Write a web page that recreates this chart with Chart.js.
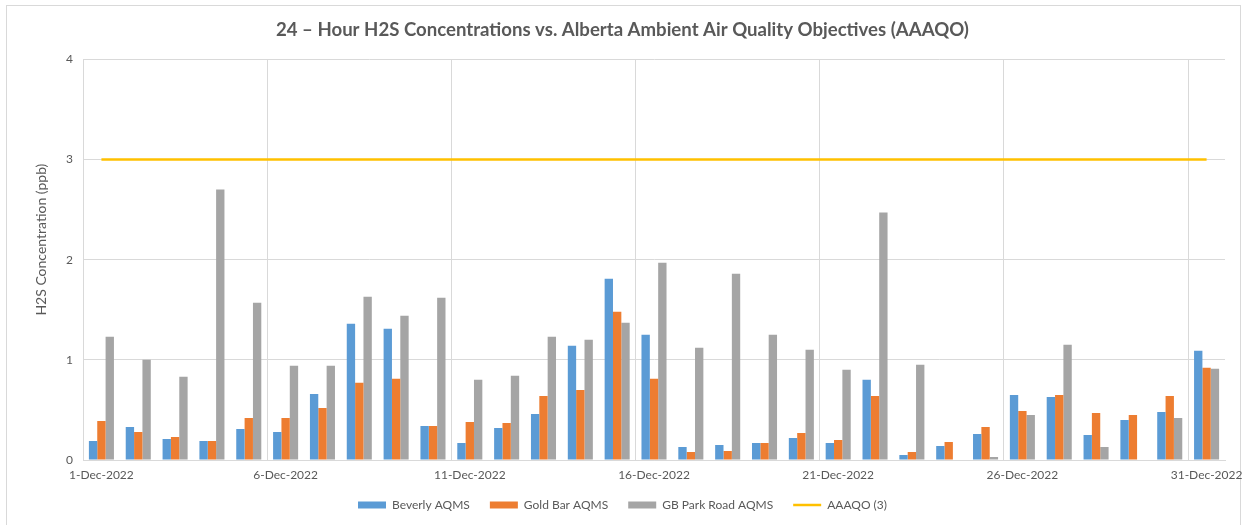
<!DOCTYPE html>
<html>
<head>
<meta charset="utf-8">
<script src="https://cdn.jsdelivr.net/npm/chart.js@4.4.0/dist/chart.umd.min.js"></script>
<style>
  html, body { margin: 0; padding: 0; background: #fff; }
  #wrap { width: 1243px; height: 525px; }
</style>
</head>
<body>
<div id="wrap"><canvas id="h2sChart" width="1243" height="525"></canvas></div>
<script>
// days of December 2022
const days = ['1-Dec-2022', '2-Dec-2022', '3-Dec-2022', '4-Dec-2022', '5-Dec-2022', '6-Dec-2022',
    '7-Dec-2022', '8-Dec-2022', '9-Dec-2022', '10-Dec-2022', '11-Dec-2022', '12-Dec-2022',
    '13-Dec-2022', '14-Dec-2022', '15-Dec-2022', '16-Dec-2022', '17-Dec-2022', '18-Dec-2022',
    '19-Dec-2022', '20-Dec-2022', '21-Dec-2022', '22-Dec-2022', '23-Dec-2022', '24-Dec-2022',
    '25-Dec-2022', '26-Dec-2022', '27-Dec-2022', '28-Dec-2022', '29-Dec-2022', '30-Dec-2022',
    '31-Dec-2022'];

const beverly = [0.19, 0.33, 0.21, 0.19, 0.31, 0.28, 0.66, 1.36, 1.31, 0.34,
    0.17, 0.32, 0.46, 1.14, 1.81, 1.25, 0.13, 0.15, 0.17, 0.22,
    0.17, 0.80, 0.05, 0.14, 0.26, 0.65, 0.63, 0.25, 0.40, 0.48, 1.09];

const goldBar = [0.39, 0.28, 0.23, 0.19, 0.42, 0.42, 0.52, 0.77, 0.81, 0.34,
    0.38, 0.37, 0.64, 0.70, 1.48, 0.81, 0.08, 0.09, 0.17, 0.27,
    0.20, 0.64, 0.08, 0.18, 0.33, 0.49, 0.65, 0.47, 0.45, 0.64, 0.92];

const gbParkRoad = [1.23, 1.00, 0.83, 2.70, 1.57, 0.94, 0.94, 1.63, 1.44, 1.62,
    0.80, 0.84, 1.23, 1.20, 1.37, 1.97, 1.12, 1.86, 1.25, 1.10,
    0.90, 2.47, 0.95, null, 0.03, 0.45, 1.15, 0.13, null, 0.42, 0.91];

// objective line (3 ppb)
const aaaqo = [3, 3, 3, 3, 3, 3, 3, 3, 3, 3, 3, 3, 3, 3, 3, 3,
    3, 3, 3, 3, 3, 3, 3, 3, 3, 3, 3, 3, 3, 3, 3];

const yTicks = [0, 1, 2, 3, 4];
const yTitle = 'H2S Concentration (ppb)';

const textGrey = '#595959';
const gridGrey = '#d9d9d9';
const fontFam = "Lato, 'Open Sans', sans-serif";

// light frame around the whole chart + y axis title (sits a bit above the middle, like the original)
const decorations = {
    id: 'decorations',
    beforeDraw(chart) {
        const c = chart.ctx;
        c.save();
        c.fillStyle = '#fff';
        c.fillRect(0, 0, chart.width, chart.height);
        c.strokeStyle = gridGrey;
        c.lineWidth = 1;
        c.strokeRect(6.5, 5.5, 1234, 530);
        c.restore();
    },
    afterDraw(chart) {
        const c = chart.ctx;
        const area = chart.chartArea;
        c.save();
        c.translate(41, area.top + (area.bottom - area.top) * 0.45);
        c.rotate(-Math.PI / 2);
        c.fillStyle = textGrey;
        c.font = '14px ' + fontFam;
        c.textAlign = 'center';
        c.textBaseline = 'middle';
        c.fillText(yTitle, 0, 0);
        c.restore();
    }
};

const bar = (label, data, color) => ({
    type: 'bar',
    label: label,
    data: data,
    backgroundColor: color,
    borderWidth: 0,
    pointStyle: 'rect',
    categoryPercentage: 0.68,
    barPercentage: 1
});

new Chart(document.getElementById('h2sChart'), {
    data: {
        labels: days,
        datasets: [
            bar('Beverly AQMS', beverly, '#5B9BD5'),
            bar('Gold Bar AQMS', goldBar, '#ED7D31'),
            bar('GB Park Road AQMS', gbParkRoad, '#A5A5A5'),
            {
                type: 'line',
                label: 'AAAQO (3)',
                data: aaaqo,
                borderColor: '#FFC000',
                backgroundColor: '#FFC000',
                borderWidth: 2.5,
                pointRadius: 0,
                pointStyle: 'line'
            }
        ]
    },
    options: {
        responsive: false,
        animation: false,
        layout: { padding: { left: 20, right: 18, top: 19, bottom: 4 } },
        plugins: {
            title: {
                display: true,
                text: '24 \u2013 Hour H2S Concentrations vs. Alberta Ambient Air Quality Objectives (AAAQO)',
                color: textGrey,
                font: { family: fontFam, size: 18.6, weight: 'bold' },
                padding: { top: 0, bottom: 18 }
            },
            legend: {
                position: 'bottom',
                labels: {
                    color: textGrey,
                    font: { family: fontFam, size: 12 },
                    usePointStyle: true,
                    pointStyleWidth: 28,
                    boxHeight: 7,
                    padding: 20
                }
            },
            tooltip: { enabled: false }
        },
        scales: {
            x: {
                offset: true,
                grid: {
                    offset: true,
                    drawTicks: false,
                    color: (ctx) => (ctx.index !== undefined && ctx.index > 0 && ctx.index % 5 === 0) ? gridGrey : 'rgba(0,0,0,0)'
                },
                border: { color: gridGrey },
                ticks: {
                    autoSkip: false,
                    maxRotation: 0,
                    padding: 8,
                    color: textGrey,
                    font: { family: fontFam, size: 12 },
                    callback: (val, i) => (i % 5 === 0 ? days[i] : '')
                },
                afterFit: (scale) => {
                    scale.height = 19;
                    scale.paddingLeft = 0;
                    scale.paddingRight = 0;
                }
            },
            y: {
                min: yTicks[0],
                max: yTicks[yTicks.length - 1],
                afterBuildTicks: (scale) => { scale.ticks = yTicks.map(v => ({ value: v })); },
                grid: { color: gridGrey, drawTicks: false },
                border: { color: gridGrey },
                ticks: {
                    padding: 10,
                    color: textGrey,
                    font: { family: fontFam, size: 12 }
                },
                title: { display: false, text: yTitle },
                afterFit: (scale) => { scale.width = 63; }
            }
        }
    },
    plugins: [decorations]
});
</script>
</body>
</html>
